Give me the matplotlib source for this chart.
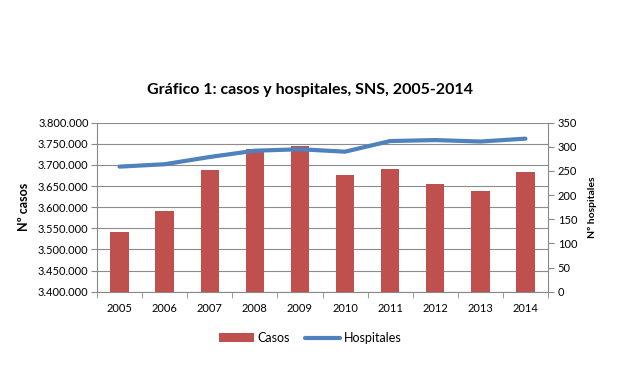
import numpy as np
import matplotlib.pyplot as plt

years = ["2005", "2006", "2007", "2008", "2009", "2010", "2011", "2012", "2013", "2014"]
casos = [3542000, 3592000, 3689000, 3738000, 3745000, 3677000, 3691000, 3656000, 3639000, 3684000]
hospitales = [259, 264, 279, 292, 295, 290, 312, 314, 311, 317]

plt.rcParams['font.family'] = ['Lato', 'DejaVu Sans']

def miles(v, pos=None):
    return f"{int(v):,}".replace(",", ".")

fig = plt.figure(figsize=(6.2, 3.68), dpi=100)
ax = fig.add_axes([97 / 620, 1 - 291.7 / 368, 451 / 620, 169 / 368])
x = np.arange(len(years))

ax.bar(x, casos, width=0.41, color='#C0504D', zorder=2, label='Casos')
ax.set_ylim(3400000, 3800000)
ax.set_yticks(np.arange(3400000, 3800001, 50000))
ax.yaxis.set_major_formatter(plt.FuncFormatter(miles))
ax.set_xlim(-0.5, len(years) - 0.5)
ax.set_xticks(x)
ax.set_xticklabels(years)
ax.set_xticks(np.arange(-0.5, len(years), 1), minor=True)
ax.tick_params(axis='x', which='major', length=0, pad=8, labelsize=8)
ax.tick_params(axis='x', which='minor', length=4, color='#888888')
ax.tick_params(axis='y', length=4, color='#888888', labelsize=8, pad=2)
ax.grid(axis='y', color='#8c8c8c', linewidth=0.8, zorder=0)
ax.set_axisbelow(True)
for s in ['top', 'right']:
    ax.spines[s].set_visible(False)
ax.spines['left'].set_color('#888888')
ax.spines['bottom'].set_color('#888888')
ax.set_ylabel('Nº casos', fontsize=9, fontweight='bold', labelpad=6)

ax2 = ax.twinx()
ax2.plot(x, hospitales, color='#4F81BD', linewidth=3, solid_capstyle='round', label='Hospitales')
ax2.set_ylim(0, 350)
ax2.set_yticks(np.arange(0, 351, 50))
ax2.tick_params(axis='y', length=4, color='#888888', labelsize=8, pad=3)
for s in ['top', 'left', 'bottom']:
    ax2.spines[s].set_visible(False)
ax2.spines['right'].set_color('#888888')
ax2.set_ylabel('Nº hospitales', fontsize=7.5, fontweight='bold', labelpad=8)

fig.text(0.5, 1 - 90 / 368, 'Gráfico 1: casos y hospitales, SNS, 2005-2014',
         ha='center', va='center', fontsize=11.5, fontweight='bold')

h1, l1 = ax.get_legend_handles_labels()
h2, l2 = ax2.get_legend_handles_labels()
fig.legend(h1 + h2, l1 + l2, loc='center', bbox_to_anchor=(0.5, 1 - 338 / 368),
           ncol=2, frameon=False, fontsize=9, handlelength=2.8, columnspacing=1.2, handletextpad=0.3)

plt.savefig('out.png', dpi=100)
plt.close()
